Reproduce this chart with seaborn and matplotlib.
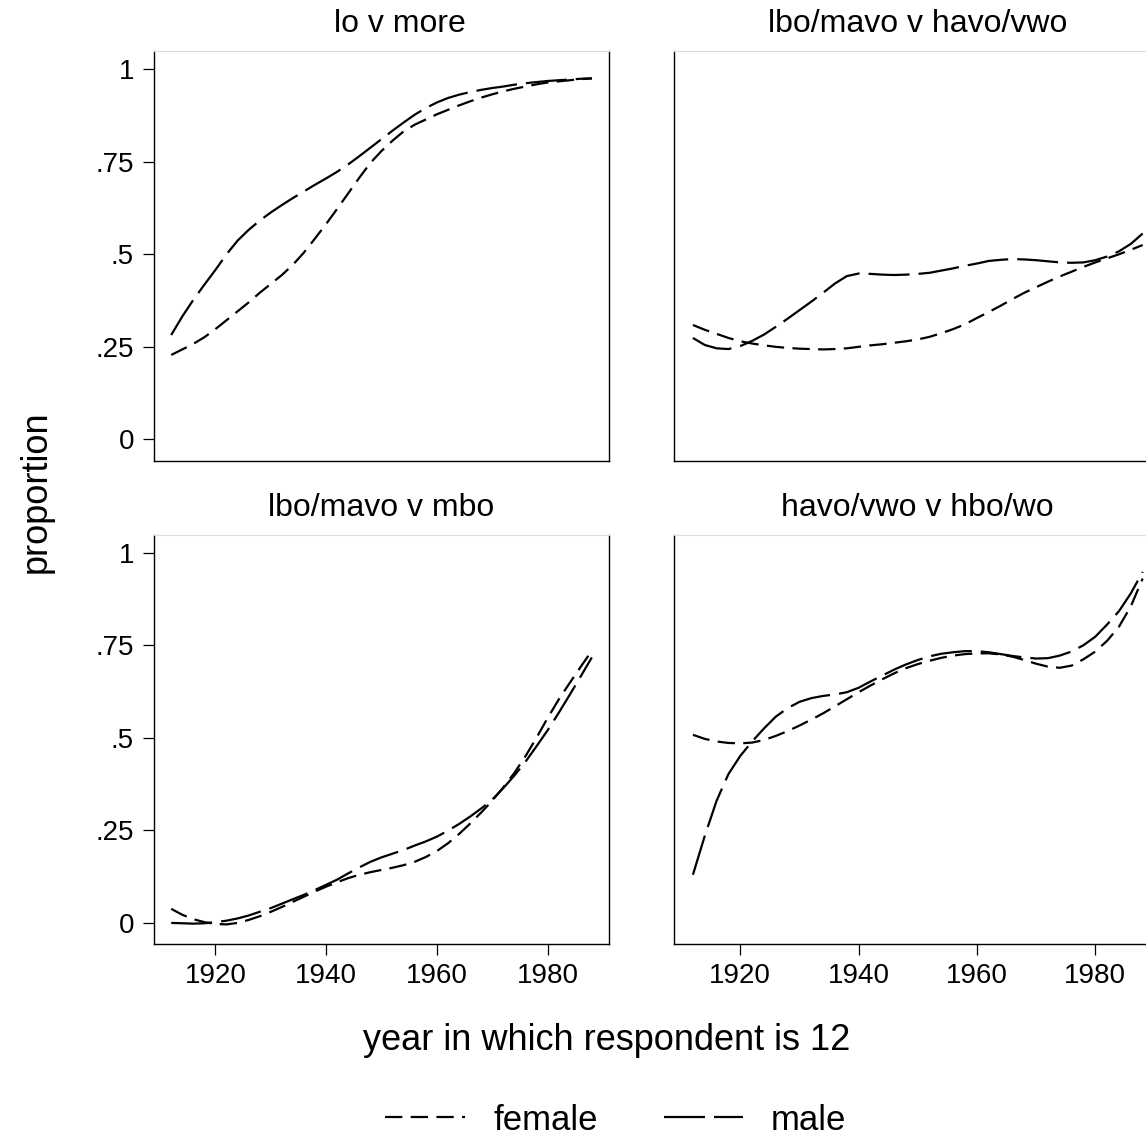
import numpy as np
import pandas as pd
import matplotlib
matplotlib.use("Agg")
import matplotlib.pyplot as plt
import seaborn as sns

# --- data (proportion by year, smoothed curves) ---
years = list(range(1912, 1990, 2))  # 1912 ... 1988

panels = ["lo v more", "lbo/mavo v havo/vwo", "lbo/mavo v mbo", "havo/vwo v hbo/wo"]

lo_more_female = [.228, .243, .258, .276, .298, .322, .346, .370, .396, .420,
                  .444, .472, .505, .543, .582, .623, .665, .707, .747, .779,
                  .807, .832, .850, .864, .878, .890, .902, .913, .923, .932,
                  .940, .947, .953, .959, .964, .967, .970, .973, .975]
lo_more_male = [.282, .332, .377, .418, .458, .500, .537, .566, .591, .613,
                .633, .652, .670, .688, .705, .723, .743, .765, .788, .811,
                .834, .856, .877, .895, .910, .922, .931, .938, .944, .949,
                .953, .958, .962, .965, .968, .970, .972, .974, .975]

mavo_havo_female = [.309, .296, .285, .274, .265, .259, .254, .250, .247, .245,
                    .244, .243, .244, .246, .250, .254, .257, .261, .265, .270,
                    .277, .287, .298, .311, .328, .344, .361, .379, .396, .411,
                    .426, .440, .453, .466, .478, .489, .500, .512, .525]
mavo_havo_male = [.274, .255, .246, .244, .252, .266, .283, .304, .326, .349,
                  .372, .396, .421, .441, .448, .447, .445, .444, .445, .447,
                  .450, .456, .462, .469, .475, .482, .485, .487, .486, .484,
                  .481, .478, .477, .478, .484, .494, .508, .528, .556]

mavo_mbo_female = [.038, .022, .010, .002, -.003, -.004, .000, .008, .018, .030,
                   .043, .057, .071, .085, .098, .110, .121, .130, .137, .143,
                   .149, .156, .165, .178, .194, .215, .240, .268, .298, .330,
                   .366, .405, .450, .500, .553, .603, .648, .692, .735]
mavo_mbo_male = [.000, -.001, -.002, -.001, .002, .006, .012, .020, .030, .040,
                 .052, .064, .076, .089, .103, .117, .134, .150, .165, .177,
                 .187, .197, .209, .220, .233, .249, .267, .287, .309, .333,
                 .364, .398, .435, .477, .520, .567, .616, .666, .717]

havo_hbo_female = [.508, .497, .490, .486, .485, .487, .494, .505, .518, .533,
                   .549, .566, .585, .604, .623, .641, .658, .674, .688, .699,
                   .708, .716, .722, .726, .728, .728, .725, .719, .710, .700,
                   .692, .689, .695, .712, .733, .762, .800, .855, .930]
havo_hbo_male = [.130, .235, .330, .402, .451, .490, .525, .557, .580, .597,
                 .607, .613, .617, .623, .635, .652, .668, .684, .698, .710,
                 .720, .727, .731, .734, .734, .731, .726, .721, .717, .714,
                 .715, .722, .733, .750, .773, .806, .842, .890, .948]

series = {
    panels[0]: (lo_more_female, lo_more_male),
    panels[1]: (mavo_havo_female, mavo_havo_male),
    panels[2]: (mavo_mbo_female, mavo_mbo_male),
    panels[3]: (havo_hbo_female, havo_hbo_male),
}

ytick_vals = [0, .25, .5, .75, 1]
ytick_labels = ["0", ".25", ".5", ".75", "1"]
xtick_vals = [1920, 1940, 1960, 1980]

# long-form table for seaborn
rows = []
for name, (fem, mal) in series.items():
    for yr, f, m in zip(years, fem, mal):
        rows.append({"panel": name, "year": yr, "prop": f, "sex": "female"})
        rows.append({"panel": name, "year": yr, "prop": m, "sex": "male"})
df = pd.DataFrame(rows)

# --- style ---
sns.set_theme(style="white")
plt.rcParams["font.family"] = ["Liberation Sans", "DejaVu Sans"]
plt.rcParams["lines.scale_dashes"] = False
for key in ["text.color", "axes.labelcolor", "xtick.color", "ytick.color"]:
    plt.rcParams[key] = "black"

W, H = 1146, 1136
fig, axes = plt.subplots(
    2, 2, figsize=(W / 100, H / 100), dpi=100,
    gridspec_kw=dict(width_ratios=[455.5, 487], left=153.5 / W, right=1161 / W,
                     top=1 - 51 / H, bottom=1 - 944 / H,
                     wspace=65 / 471.25, hspace=74 / 409.5))

dash_map = {"female": (12.5, 6), "male": (29.5, 6.5)}
title_x = [0.54, 0.5, 0.5, 0.5]

for i, (ax, name) in enumerate(zip(axes.flat, panels)):
    sub = df[df["panel"] == name]
    sns.lineplot(data=sub, x="year", y="prop", style="sex",
                 style_order=["female", "male"], dashes=dash_map,
                 color="black", linewidth=1.6, ax=ax, legend=(i == 2))
    ax.set_xlim(1908.8, 1991.1)
    ax.set_ylim(-0.057, 1.049)
    ax.set_title(name, fontsize=23, pad=13.5, x=title_x[i])
    ax.set_xlabel("")
    ax.set_ylabel("")
    ax.set_xticks(xtick_vals)
    ax.set_yticks(ytick_vals)
    ax.set_yticklabels(ytick_labels)
    for side in ["left", "bottom", "right"]:
        ax.spines[side].set_color("black")
        ax.spines[side].set_linewidth(1.0)
    ax.spines["top"].set_color("#dcdcdc")
    ax.spines["top"].set_linewidth(0.8)
    ax.tick_params(axis="both", labelsize=20, length=8, width=0.9,
                   color="black", direction="out", pad=6)
    row, col = divmod(i, 2)
    if row == 0:
        ax.tick_params(axis="x", bottom=False, labelbottom=False)
    else:
        ax.tick_params(axis="x", bottom=True)
    if col == 1:
        ax.tick_params(axis="y", left=False, labelleft=False)
    else:
        ax.tick_params(axis="y", left=True)

# move the seaborn legend to the bottom of the figure
leg = axes[1, 0].get_legend()
handles = leg.legend_handles
labels = [t.get_text() for t in leg.get_texts()]
leg.remove()
fig.legend(handles, labels, loc="center", bbox_to_anchor=(616 / W, 1 - 1120 / H),
           ncol=2, frameon=False, fontsize=25, handlelength=2.3,
           handletextpad=0.8, columnspacing=1.9)

fig.text(607 / W, 1 - 1050 / H, "year in which respondent is 12",
         ha="center", va="baseline", fontsize=26)
fig.text(36 / W, 1 - 492 / H, "proportion", rotation=90,
         ha="center", va="center", fontsize=26)

fig.savefig("out.png", dpi=100, facecolor="white")
